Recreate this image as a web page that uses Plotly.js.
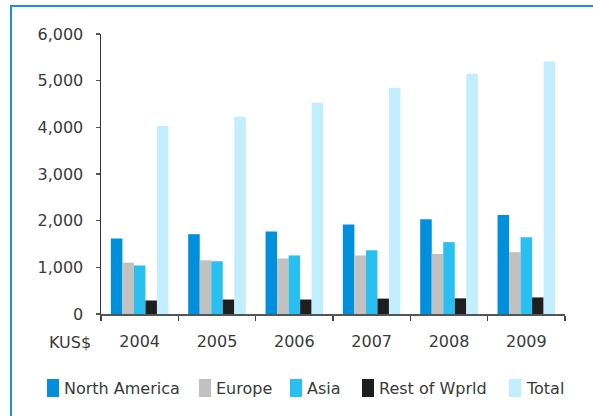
<!DOCTYPE html>
<html>
<head>
<meta charset="utf-8">
<script src="https://cdn.plot.ly/plotly-3.0.1.min.js"></script>
<style>html,body{margin:0;padding:0;background:#fff;}#chart{width:593px;height:416px;}</style>
</head>
<body>
<div id="chart"></div>
<script>
// ---- data ----
const years = ['2004', '2005', '2006', '2007', '2008', '2009'];
const northAmerica = [1620, 1710, 1770, 1920, 2030, 2120];
const europe = [1100, 1150, 1190, 1255, 1285, 1325];
const asia = [1040, 1130, 1255, 1365, 1540, 1645];
const restOfWorld = [290, 310, 310, 330, 335, 355];
const total = [4030, 4225, 4525, 4850, 5150, 5410];
const seriesNames = ['North America', 'Europe', 'Asia', 'Rest of Wprld', 'Total'];
const unitLabel = 'KUS$';

// ---- styles ----
const colors = ['#008fdc', '#c1c1c1', '#29bff1', '#1e1e1e', '#c2eeff'];
const seriesValues = [northAmerica, europe, asia, restOfWorld, total];
const W = 593, H = 416;
const M = {l: 101, r: 28, t: 34, b: 102};
const pw = W - M.l - M.r, ph = H - M.t - M.b;
const px = x => (x - M.l) / pw;
const py = y => (H - M.b - y) / ph;
const txtColor = '#3a3a3a';
const fontFam = 'DejaVu Sans, sans-serif';

const traces = seriesNames.map((name, i) => ({
  type: 'bar',
  name: name,
  x: years,
  y: seriesValues[i],
  marker: {color: colors[i], line: {width: 0}},
  showlegend: false,
  hoverinfo: 'x+y+name'
}));

// custom legend (tall swatches like the reference)
const legendTextX = [64, 216, 307, 379, 526];
const legendY = 388;
const shapes = [
  // blue frame lines
  {type: 'line', xref: 'paper', yref: 'paper', x0: px(11), x1: px(11), y0: py(5), y1: py(420), line: {color: '#1b90e0', width: 2}},
  {type: 'line', xref: 'paper', yref: 'paper', x0: px(10), x1: px(600), y0: py(6), y1: py(6), line: {color: '#1b90e0', width: 2}}
];
const annotations = [
  {xref: 'paper', yref: 'paper', x: px(93), y: py(342), xanchor: 'right', yanchor: 'middle', text: unitLabel, showarrow: false, font: {family: fontFam, size: 16, color: txtColor}}
];
seriesNames.forEach((name, i) => {
  const tx = legendTextX[i];
  shapes.push({type: 'rect', xref: 'paper', yref: 'paper', x0: px(tx - 17), x1: px(tx - 5), y0: py(379), y1: py(397), fillcolor: colors[i], line: {width: 0}});
  annotations.push({xref: 'paper', yref: 'paper', x: px(tx - 2), y: py(legendY), xanchor: 'left', yanchor: 'middle', text: name, showarrow: false, font: {family: fontFam, size: 16, color: txtColor}});
});

const layout = {
  width: W, height: H,
  margin: M,
  paper_bgcolor: '#ffffff',
  plot_bgcolor: '#ffffff',
  barmode: 'group',
  bargap: 0.255,
  bargroupgap: 0,
  font: {family: fontFam, size: 16, color: txtColor},
  xaxis: {
    type: 'category',
    showgrid: false,
    zeroline: false,
    showline: true,
    linecolor: '#555555',
    linewidth: 2,
    ticks: 'outside',
    tickson: 'boundaries',
    ticklen: 5,
    tickwidth: 1.5,
    tickcolor: '#444444',
    ticklabelstandoff: 12,
    tickfont: {family: fontFam, size: 16, color: txtColor}
  },
  yaxis: {
    range: [0, 6000],
    dtick: 1000,
    tick0: 0,
    tickformat: ',d',
    showgrid: false,
    zeroline: false,
    showline: true,
    linecolor: '#333333',
    linewidth: 1.5,
    ticks: 'outside',
    ticklen: 4,
    tickwidth: 1.5,
    tickcolor: '#555555',
    ticklabelstandoff: 9,
    tickfont: {family: fontFam, size: 16, color: txtColor}
  },
  shapes: shapes,
  annotations: annotations,
  showlegend: false
};

Plotly.newPlot('chart', traces, layout, {displayModeBar: false, staticPlot: true});
</script>
</body>
</html>
